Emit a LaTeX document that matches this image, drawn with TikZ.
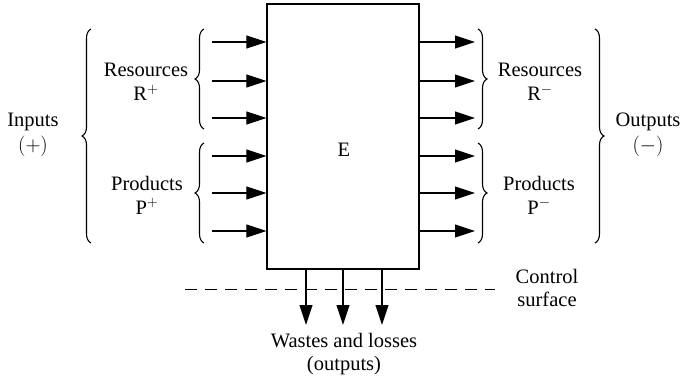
\documentclass[tikz,border=0pt]{standalone}
\usepackage{fontspec}
\setmainfont{Liberation Serif}
\usetikzlibrary{arrows.meta,decorations.pathreplacing}
\begin{document}
\begin{tikzpicture}[x=1pt,y=-1pt,
  every node/.style={font=\fontsize{20.5}{23}\selectfont, inner sep=0pt, align=center},
  flow/.style={line width=1.1pt,-{Triangle[length=20pt,width=13pt]}},
  brc/.style={line width=1.1pt,decorate,decoration={brace,amplitude=9pt}},
  sysbox/.style={draw,line width=1.3pt,minimum width=152pt,minimum height=265pt}]
\useasboundingbox (0,0) rectangle (687,377);
% control volume
\node[sysbox] (E) at (343,136.5) {};
\node (Elab) at (344,150) {E};
% incoming and outgoing flows
\foreach \i/\y in {1/42,2/81,3/118,4/156,5/193,6/231}{
  \coordinate (in\i) at (212,\y);
  \draw[flow] (in\i) -- (E.west |- in\i);
  \coordinate (out\i) at (475,\y);
  \draw[flow] (E.east |- out\i) -- (out\i);
}
% wastes leaving through the bottom
\foreach \i/\x in {1/306,2/343,3/382}{
  \coordinate (w\i) at (\x,325);
  \draw[flow] (E.south -| w\i) -- (w\i);
}
% braces
\draw[brc] (204,129) -- (204,29);
\draw[brc] (204,243) -- (204,143);
\draw[brc] (91,243) -- (91,29);
\draw[brc] (478,29) -- (478,129);
\draw[brc] (478,143) -- (478,243);
\draw[brc] (595,29) -- (595,243);
% labels
\node (rin) at (146,82) {Resources\\[1pt]R$^{+}$};
\node (pin) at (147,195) {Products\\[1pt]P$^{+}$};
\node (inp) at (33,135) {Inputs\\[2pt]$(+)$};
\node (rout) at (540,82) {Resources\\[1pt]R$^{-}$};
\node (pout) at (539,195) {Products\\[1pt]P$^{-}$};
\node (outp) at (648,135) {Outputs\\[2pt]$(-)$};
% control surface
\draw[line width=1pt,dash pattern=on 12pt off 8pt] (185,289) coordinate (cs0) -- (495,289) coordinate (cs1);
\node (cs) at (547,288) {Control\\surface};
\node (wl) at (344,354) {Wastes and losses\\(outputs)};
\end{tikzpicture}
\end{document}
